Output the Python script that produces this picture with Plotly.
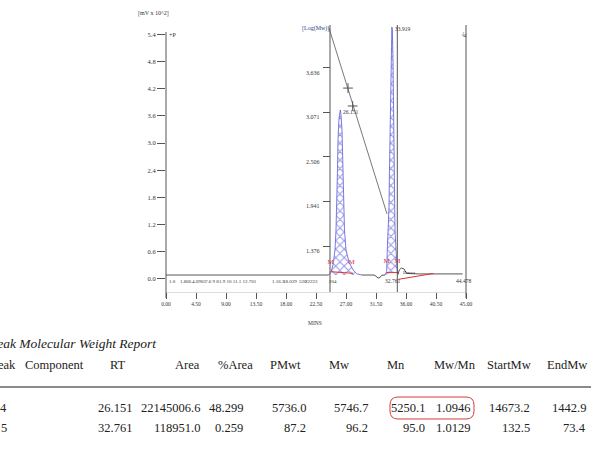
import plotly.graph_objects as go

# ---------------- data ----------------
time_tick_vals = [0.0, 4.5, 9.0, 13.5, 18.0, 22.5, 27.0, 31.5, 36.0, 40.5, 45.0]
time_tick_text = ["0.00", "4.50", "9.00", "13.50", "18.00", "22.50", "27.00", "31.50", "36.00", "40.50", "45.00"]
signal_tick_vals = [0.0, 0.6, 1.2, 1.8, 2.4, 3.0, 3.6, 4.2, 4.8, 5.4]
signal_tick_text = ["0.0", "0.6", "1.2", "1.8", "2.4", "3.0", "3.6", "4.2", "4.8", "5.4"]
logmw_tick_vals = [3.636, 3.071, 2.506, 1.941, 1.376]
logmw_tick_text = ["3.636", "3.071", "2.506", "1.941", "1.376"]

# chromatogram (min, mV x 10^2)
base_left_time = [0.0, 24.40]
base_left_signal = [0.086, 0.086]
peak1_time = [24.40, 24.75, 25.05, 25.35, 25.50, 25.65, 25.72, 25.80, 25.95, 26.15, 26.25, 26.40,
              26.52, 26.62, 26.77, 27.00, 27.45, 28.05, 28.65, 29.40]
peak1_signal = [0.086, 0.15, 0.31, 0.64, 1.08, 1.74, 2.40, 3.07, 3.55, 3.73, 3.62, 3.29,
                2.63, 1.74, 1.08, 0.64, 0.37, 0.20, 0.11, 0.086]
between_time = [29.40, 31.20, 31.50, 31.80, 32.10, 32.35, 32.85]
between_signal = [0.086, 0.086, 0.06, 0.02, 0.03, 0.08, 0.086]
peak2_time = [32.85, 33.10, 33.19, 33.30, 33.45, 33.52, 33.60, 33.70, 33.79, 33.88, 33.95,
              34.05, 34.12, 34.20, 34.24, 34.35, 34.50, 34.70]
peak2_signal = [0.086, 0.16, 0.64, 1.08, 1.60, 2.40, 3.07, 4.17, 5.06, 5.56, 5.50,
                4.84, 3.95, 3.07, 1.60, 1.08, 0.64, 0.16]
base_right_time = [34.70, 34.80, 35.00, 35.30, 35.70, 36.10, 38.00, 41.00, 44.48]
base_right_signal = [0.16, 0.10, 0.20, 0.24, 0.22, 0.12, 0.11, 0.11, 0.11]

# calibration curve (min, log Mw)
cal_time = [24.45, 33.15]
cal_logmw = [4.139, 1.782]
cal_pts_time = [27.30, 28.00]
cal_pts_logmw = [3.378, 3.151]

# integration baselines (red)
int1_time, int1_signal = [24.70, 28.05], [0.159, 0.124]
int2_time, int2_signal = [33.00, 34.70], [0.14, 0.14]
int3_time, int3_signal = [34.85, 40.10], [-0.01, 0.12]
mark_time = [24.70, 27.85, 33.10, 34.70]
mark_signal = [0.37, 0.37, 0.40, 0.40]

# small peak labels along baseline
small_rt = [0.15, 1.80, 3.60, 5.55, 7.65, 15.60, 17.25, 19.65, 20.55, 24.15]
small_lbl = ["1.0", "1.866", "4.0905", "7.6 9 8", "1.9 10 11.1 12.701", "1.16.3",
             "18.039", "520", "22223", "204"]

# report table
headers = ["Peak", "Component", "RT", "Area", "%Area", "PMwt", "Mw", "Mn", "Mw/Mn", "StartMw", "EndMw"]
peak_no = ["4", "5"]
rt = [26.151, 32.761]
area = [22145006.6, 118951.0]
pct_area = [48.299, 0.259]
pmwt = [5736.0, 87.2]
mw = [5746.7, 96.2]
mn = [5250.1, 95.0]
pdi = [1.0946, 1.0129]
start_mw = [14673.2, 132.5]
end_mw = [1442.9, 73.4]

# ---------------- layout helpers ----------------
W, H = 591, 454
L, R, T, B = 166, 466, 20, 292
Y0, Y1 = -0.289, 5.717
Y20, Y21 = 0.793, 4.241

def pxx(xp):
    return (xp - L) / (R - L)

def pxy(yp):
    return (B - yp) / (B - T)

SERIF = "Liberation Serif"
LINE = "#555555"
HATCH = "#2b2bcf"

fig = go.Figure()

# hatched peaks
for tx, sy in [(peak1_time, peak1_signal), (peak2_time, peak2_signal)]:
    fig.add_trace(go.Scatter(x=tx, y=sy, mode="lines", fill="toself",
                             line=dict(width=0.8, color="#5a5ad8"),
                             fillcolor="rgba(255,255,255,0)",
                             fillpattern=dict(shape="x", fgcolor=HATCH, bgcolor="white",
                                              size=6, solidity=0.3),
                             hoverinfo="skip", showlegend=False))

# chromatogram baseline segments
for tx, sy in [(base_left_time, base_left_signal), (between_time, between_signal),
               (base_right_time, base_right_signal)]:
    fig.add_trace(go.Scatter(x=tx, y=sy, mode="lines",
                             line=dict(color="#555555", width=1), showlegend=False, hoverinfo="skip"))

# integration baselines
for tx, sy in [(int1_time, int1_signal), (int2_time, int2_signal), (int3_time, int3_signal)]:
    fig.add_trace(go.Scatter(x=tx, y=sy, mode="lines", line=dict(color="#e03030", width=1),
                             showlegend=False, hoverinfo="skip"))
fig.add_trace(go.Scatter(x=mark_time, y=mark_signal, mode="text", text=["M"] * len(mark_time),
                         textfont=dict(family=SERIF, size=7, color="#e03030"),
                         showlegend=False, hoverinfo="skip"))

# calibration curve on log axis
fig.add_trace(go.Scatter(x=cal_time, y=cal_logmw, yaxis="y2", mode="lines",
                         line=dict(color="#555555", width=0.8), showlegend=False, hoverinfo="skip"))
fig.add_trace(go.Scatter(x=cal_pts_time, y=cal_pts_logmw, yaxis="y2", mode="markers",
                         marker=dict(symbol="cross-thin", size=7, line=dict(color="#555555", width=1)),
                         showlegend=False, hoverinfo="skip"))

annotations = []

def ann(text, x, y, size=6, anchor="center", color="#333333", xref="x", yref="y", **kw):
    annotations.append(dict(text=text, x=x, y=y, xref=xref, yref=yref, showarrow=False,
                            xanchor=anchor, yanchor="middle",
                            font=dict(family=SERIF, size=size, color=color), **kw))

# chart labels
ann("[mV x 10^2]", pxx(153), pxy(13), xref="paper", yref="paper", color="#333333")
ann("[Log(Mw)]", pxx(315), pxy(28), xref="paper", yref="paper", color="#2a3a8a")
ann("MINS", pxx(315), pxy(323), xref="paper", yref="paper", size=5.5)
ann("+P", pxx(167), pxy(35), xref="paper", yref="paper", anchor="left", size=6)
ann("-P", pxx(464), pxy(35), xref="paper", yref="paper", size=6, textangle=90)
ann("26.151", 26.3, 3.68, anchor="left", size=5.5)
ann("33.919", 34.0, 5.52, anchor="left", size=5.5)
ann("32.761", 32.6, -0.05, anchor="left", size=5.5)
ann("44.478", 44.6, -0.05, anchor="center", size=5.5)
ann("Dmso", 35.2, 0.15, anchor="left", size=5)
for t, s in zip(small_rt, small_lbl):
    ann(s, t, -0.05, anchor="left", size=5)
for v, s in zip(logmw_tick_vals, logmw_tick_text):
    annotations.append(dict(text=s, x=pxx(322), y=v, xref="paper", yref="y2", showarrow=False,
                            xanchor="right", yanchor="middle", yshift=-5,
                            font=dict(family=SERIF, size=6, color="#333333")))

# report table
TF = 12.5
annotations.append(dict(text="<i>Peak Molecular Weight Report</i>", x=pxx(159), y=pxy(343),
                        xref="paper", yref="paper", showarrow=False, xanchor="right", yanchor="middle",
                        font=dict(family=SERIF, size=13.5, color="#222222")))
header_px = [18, 54, 117.5, 187.5, 235.5, 285, 338.5, 395.5, 455, 509, 567]
header_anchor = ["right", "center", "center", "center", "center", "center", "center", "center",
                 "center", "center", "center"]
for h, xp, a in zip(headers, header_px, header_anchor):
    ann(h, pxx(xp), pxy(365), size=TF, anchor=a, xref="paper", yref="paper", color="#222222")

col_right_px = [134, 202, 245, 308, 370, 427, 472, 532, 588]
row_px = [408, 428]
for i in range(len(peak_no)):
    vals = [f"{rt[i]:.3f}", f"{area[i]:.1f}", f"{pct_area[i]:.3f}", f"{pmwt[i]:.1f}",
            f"{mw[i]:.1f}", f"{mn[i]:.1f}", f"{pdi[i]:.4f}", f"{start_mw[i]:.1f}", f"{end_mw[i]:.1f}"]
    ann(peak_no[i], pxx(9), pxy(row_px[i]), size=TF, anchor="right", xref="paper", yref="paper",
        color="#222222")
    for v, xp in zip(vals, col_right_px):
        ann(v, pxx(xp), pxy(row_px[i]), size=TF, anchor="right", xref="paper", yref="paper",
            color="#222222")

shapes = []

def vline(xp, y_top, y_bot, color=LINE, width=1):
    shapes.append(dict(type="line", xref="paper", yref="paper", x0=pxx(xp), x1=pxx(xp),
                       y0=pxy(y_top), y1=pxy(y_bot), line=dict(color=color, width=width)))

vline(166, 32, 298)
vline(330, 25, 292)
vline(397.3, 25, 292)
vline(466, 25, 298)
# table rule
shapes.append(dict(type="line", xref="paper", yref="paper", x0=pxx(0), x1=pxx(591),
                   y0=pxy(387), y1=pxy(387), line=dict(color="#8a8a8a", width=2)))

# rounded highlight box
def rounded_box(x0, y0, x1, y1, r):
    def P(xp, yp):
        return f"{pxx(xp):.5f},{pxy(yp):.5f}"
    return (f"M {P(x0 + r, y0)} L {P(x1 - r, y0)} Q {P(x1, y0)} {P(x1, y0 + r)} "
            f"L {P(x1, y1 - r)} Q {P(x1, y1)} {P(x1 - r, y1)} L {P(x0 + r, y1)} "
            f"Q {P(x0, y1)} {P(x0, y1 - r)} L {P(x0, y0 + r)} Q {P(x0, y0)} {P(x0 + r, y0)} Z")

shapes.append(dict(type="path", xref="paper", yref="paper", path=rounded_box(390, 397, 474, 419, 8),
                   line=dict(color="#d83a3a", width=1)))

fig.update_layout(
    width=W, height=H,
    margin=dict(l=L, r=W - R, t=T, b=H - B, pad=0),
    paper_bgcolor="white", plot_bgcolor="white",
    showlegend=False,
    xaxis=dict(range=[0, 45], tickvals=time_tick_vals, ticktext=time_tick_text,
               ticks="outside", ticklen=6, tickcolor=LINE, tickwidth=1,
               showline=True, linecolor="#dddddd", linewidth=1,
               showgrid=False, zeroline=False,
               tickfont=dict(family=SERIF, size=5.5, color="#333333")),
    yaxis=dict(range=[Y0, Y1], tickvals=signal_tick_vals, ticktext=signal_tick_text,
               ticks="outside", ticklen=8, tickcolor=LINE, tickwidth=1,
               showline=False, showgrid=False, zeroline=False,
               tickfont=dict(family=SERIF, size=6.5, color="#333333")),
    yaxis2=dict(range=[Y20, Y21], overlaying="y", anchor="free", position=pxx(330), side="left",
                tickvals=logmw_tick_vals, ticks="outside", ticklen=7, tickcolor=LINE, tickwidth=1,
                showticklabels=False, showline=False, showgrid=False, zeroline=False),
    annotations=annotations,
    shapes=shapes,
)

fig.write_html("out.html")
